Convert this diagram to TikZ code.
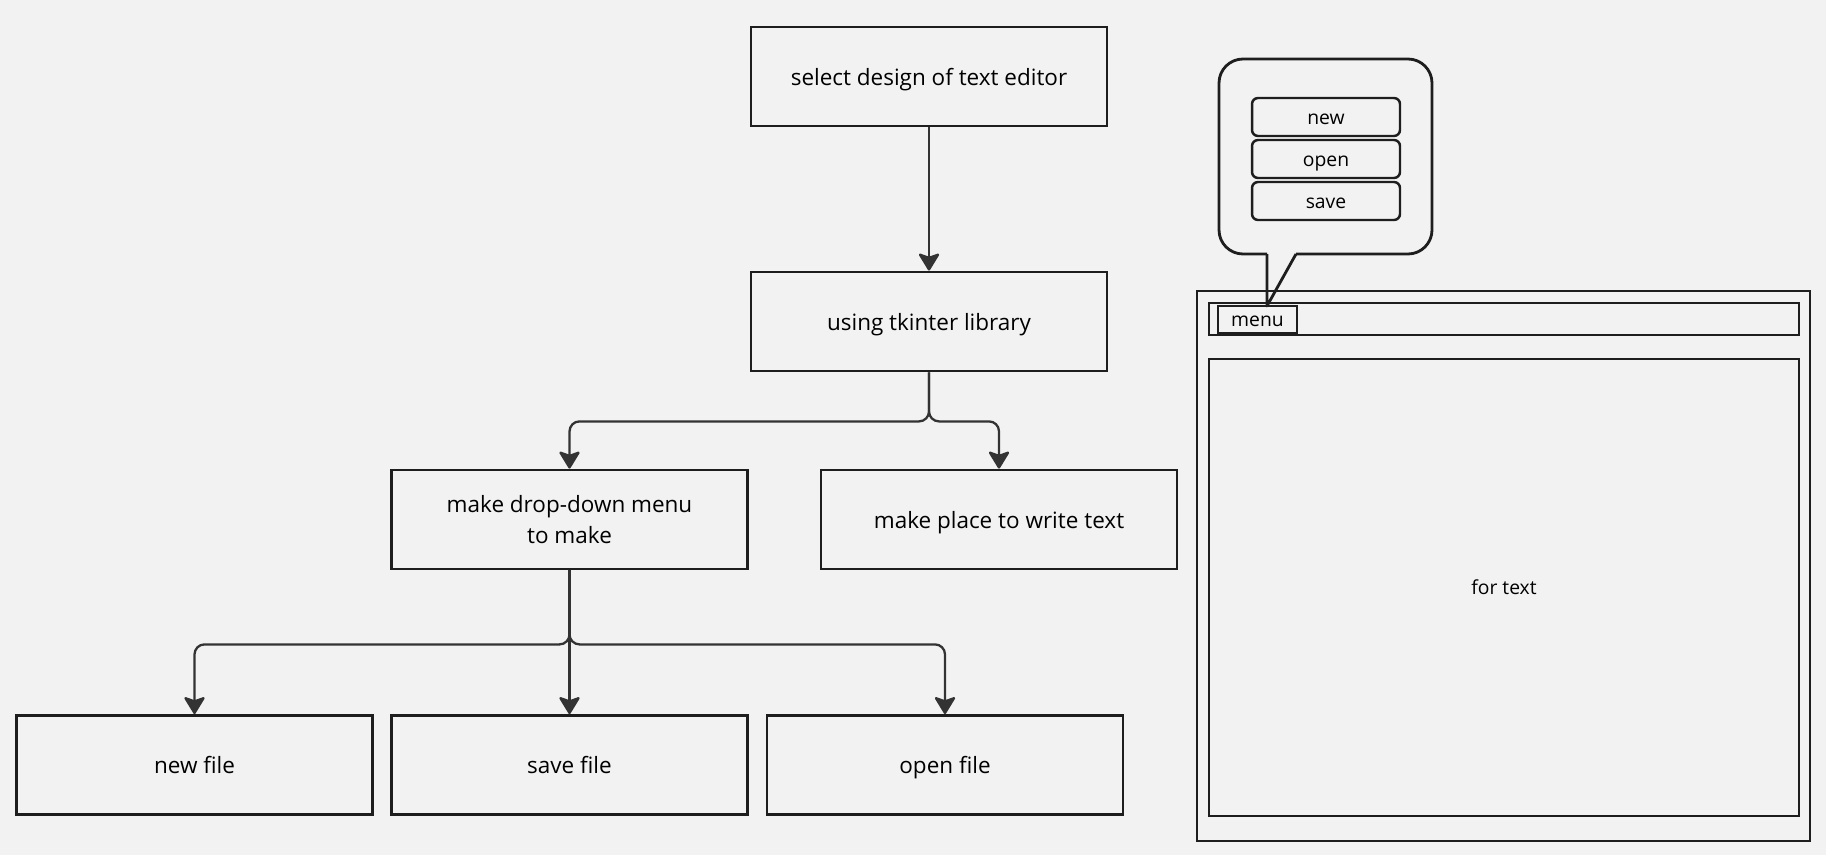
\documentclass[tikz,border=0pt]{standalone}
\usepackage{fontspec}
\setmainfont{Open Sans}
\usetikzlibrary{arrows.meta}
\definecolor{bg}{HTML}{F2F2F2}
\definecolor{ink}{HTML}{1E1E1E}
\definecolor{wire}{HTML}{333333}

\begin{document}
\begin{tikzpicture}[
    x=0.02cm, y=-0.02cm,
    box/.style={rectangle, draw=ink, line width=1.6pt, minimum width=7.12cm, minimum height=1.98cm, align=center, text height=12.8pt, text depth=3pt, font=\fontsize{12.8}{18}\selectfont},
    item/.style={rectangle, draw=ink, line width=1.4pt, rounded corners=0.12cm, minimum width=2.96cm, minimum height=0.76cm, text height=11pt, text depth=2.6pt, font=\fontsize{11}{13}\selectfont},
    frame/.style={rectangle, draw=ink, line width=1.6pt, inner sep=0pt, text height=11pt, text depth=2.6pt, font=\fontsize{11}{13}\selectfont},
    arrow/.style={draw=wire, line width=1.3pt, rounded corners=0.2cm, -{Stealth[length=0.38cm, width=0.46cm, inset=0.08cm, round]}}
]

\fill[bg] (0,0) rectangle (1826,855);

% flow chart
\node (design) [box] at (929,76.5) {select design of text editor};
\node (tkinter) [box] at (929,321.5) {using tkinter library};
\node (dropdown) [box, text height=30.8pt] at (569.5,519.5) {make drop-down menu\\to make};
\node (place) [box] at (999,519.5) {make place to write text};
\node (newfile) [box] at (194.5,765) {new file};
\node (savefile) [box] at (569.5,765) {save file};
\node (openfile) [box] at (945,765) {open file};

\draw [arrow] (design) -- (tkinter);
\draw [arrow] (tkinter.south) -- ++(0,49) -| (dropdown.north);
\draw [arrow] (tkinter.south) -- ++(0,49) -| (place.north);
\draw [arrow] (dropdown.south) -- ++(0,74) -| (newfile.north);
\draw [arrow] (dropdown.south) -- (savefile.north);
\draw [arrow] (dropdown.south) -- ++(0,74) -| (openfile.north);

% editor window
\node (window) [frame, minimum width=12.26cm, minimum height=11cm] at (1503.5,566) {};
\node (menubar) [frame, minimum width=11.8cm, minimum height=0.64cm] at (1504,319) {};
\node (menu) [frame, minimum width=1.58cm, minimum height=0.54cm] at (1257.5,319.5) {menu};
\node (textarea) [frame, minimum width=11.8cm, minimum height=9.14cm] at (1504,587.5) {for text};

% callout with the menu items
\coordinate (tip) at (1267,306);
\draw[ink, line width=1.6pt, rounded corners=0.48cm] (1267,254) -| (1219,59) -| (1432,254) -- (1296,254);
\draw[ink, line width=1.6pt, line join=round] (1267,254) -- (tip) -- (1296,254);
\node (new) [item] at (1326,117) {new};
\node (open) [item] at (1326,159) {open};
\node (save) [item] at (1326,201) {save};

\end{tikzpicture}
\end{document}
